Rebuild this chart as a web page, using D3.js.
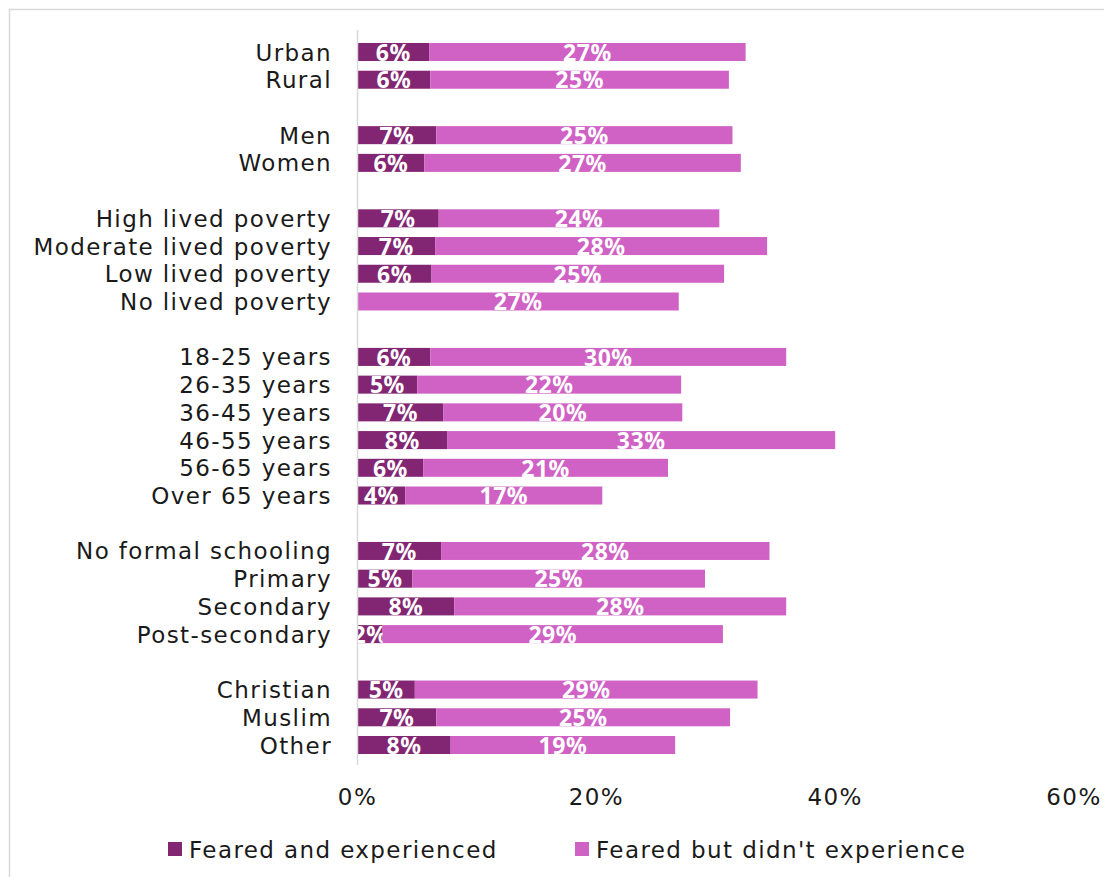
<!DOCTYPE html>
<html>
<head>
<meta charset="utf-8">
<script src="https://cdn.jsdelivr.net/npm/d3@7"></script>
<style>
  html, body { margin: 0; padding: 0; background: #fff; }
  svg { display: block; }
</style>
</head>
<body>
<svg id="chart" width="1104" height="877"></svg>
<script>
// Category groups; an empty slot separates consecutive groups.
const groups = [
  ["Urban", "Rural"],
  ["Men", "Women"],
  ["High lived poverty", "Moderate lived poverty", "Low lived poverty", "No lived poverty"],
  ["18-25 years", "26-35 years", "36-45 years", "46-55 years", "56-65 years", "Over 65 years"],
  ["No formal schooling", "Primary", "Secondary", "Post-secondary"],
  ["Christian", "Muslim", "Other"]
];
const categories = groups.flat();

// Share of respondents (%) in the same order as categories
const fearedExperienced = [6.0, 6.1, 6.6, 5.6, 6.8, 6.5, 6.2, 0, 6.1, 5.0, 7.2, 7.5, 5.5, 4.0, 7.0, 4.6, 8.1, 2.1, 4.8, 6.6, 7.8];
const fearedNotExperienced = [26.5, 25.0, 24.8, 26.5, 23.5, 27.8, 24.5, 26.9, 29.8, 22.1, 20.0, 32.5, 20.5, 16.5, 27.5, 24.5, 27.8, 28.5, 28.7, 24.6, 18.8];

const seriesNames = ["Feared and experienced", "Feared but didn't experience"];
const seriesColors = ["#822673", "#CF62C4"];
const xTicks = [0, 20, 40, 60];

const textFont = "'DejaVu Sans', sans-serif";
const labelFont = "'Noto Sans', sans-serif";
const textSize = 23;
const spacing = 1.4;
const svg = d3.select("#chart");

// Outer frame
svg.append("rect")
  .attr("x", 9.5).attr("y", 9.5)
  .attr("width", 1110).attr("height", 880)
  .attr("fill", "none").attr("stroke", "#d9d9d9").attr("stroke-width", 1.5);

// Slot keys: categories plus blank spacers between groups
const slots = [];
groups.forEach((g, i) => {
  if (i > 0) slots.push("__gap" + i);
  g.forEach(c => slots.push(c));
});

const step = 27.72;
const y = d3.scaleBand()
  .domain(slots)
  .range([52 - step / 2, 52 - step / 2 + step * slots.length])
  .paddingInner(0.35)
  .paddingOuter(0.175);

const x = d3.scaleLinear().domain([0, 60]).range([357.5, 1074]);

const stackData = categories.map((c, i) => ({ cat: c, s0: fearedExperienced[i], s1: fearedNotExperienced[i] }));
const stacked = d3.stack().keys(["s0", "s1"])(stackData);

const layers = svg.append("g").selectAll("g")
  .data(stacked)
  .join("g")
  .attr("fill", (d, i) => seriesColors[i]);

layers.selectAll("rect")
  .data(d => d.filter(p => p[1] - p[0] > 0))
  .join("rect")
  .attr("x", p => x(p[0]))
  .attr("y", p => y(p.data.cat))
  .attr("width", p => x(p[1]) - x(p[0]))
  .attr("height", y.bandwidth());

// Value labels in white, centred on each segment
const labelSize = 23;
layers.selectAll("text")
  .data(d => d.filter(p => p[1] - p[0] > 0))
  .join("text")
  .attr("x", p => (x(p[0]) + x(p[1])) / 2)
  .attr("y", p => y(p.data.cat) + y.bandwidth() / 2 + labelSize * 0.38)
  .attr("text-anchor", "middle")
  .attr("fill", "#ffffff")
  .attr("font-family", labelFont)
  .attr("font-weight", "bold")
  .attr("font-size", labelSize)
  .attr("letter-spacing", 0.5)
  .text(p => Math.round(p[1] - p[0]) + "%");

// Vertical baseline at zero
svg.append("line")
  .attr("x1", x(0)).attr("x2", x(0))
  .attr("y1", 30).attr("y2", 765)
  .attr("stroke", "#d9d9d9").attr("stroke-width", 1.5);

// Category labels
svg.append("g").selectAll("text")
  .data(categories)
  .join("text")
  .attr("x", 332)
  .attr("y", c => y(c) + y.bandwidth() / 2 + 8.5)
  .attr("text-anchor", "end")
  .attr("fill", "#1a1a1a")
  .attr("font-family", textFont)
  .attr("font-size", textSize)
  .attr("letter-spacing", spacing)
  .text(c => c);

// X axis tick labels
svg.append("g").selectAll("text")
  .data(xTicks)
  .join("text")
  .attr("x", d => x(d))
  .attr("y", 805)
  .attr("text-anchor", "middle")
  .attr("fill", "#1a1a1a")
  .attr("font-family", textFont)
  .attr("font-size", textSize)
  .attr("letter-spacing", spacing)
  .text(d => d + "%");

// Legend
const legendX = [168, 575];
const legend = svg.append("g").selectAll("g")
  .data(seriesNames)
  .join("g")
  .attr("transform", (d, i) => `translate(${legendX[i]},842)`);
legend.append("rect")
  .attr("width", 14).attr("height", 14)
  .attr("fill", (d, i) => seriesColors[i]);
legend.append("text")
  .attr("x", 21).attr("y", 16)
  .attr("fill", "#1a1a1a")
  .attr("font-family", textFont)
  .attr("font-size", textSize)
  .attr("letter-spacing", spacing)
  .text(d => d);
</script>
</body>
</html>
